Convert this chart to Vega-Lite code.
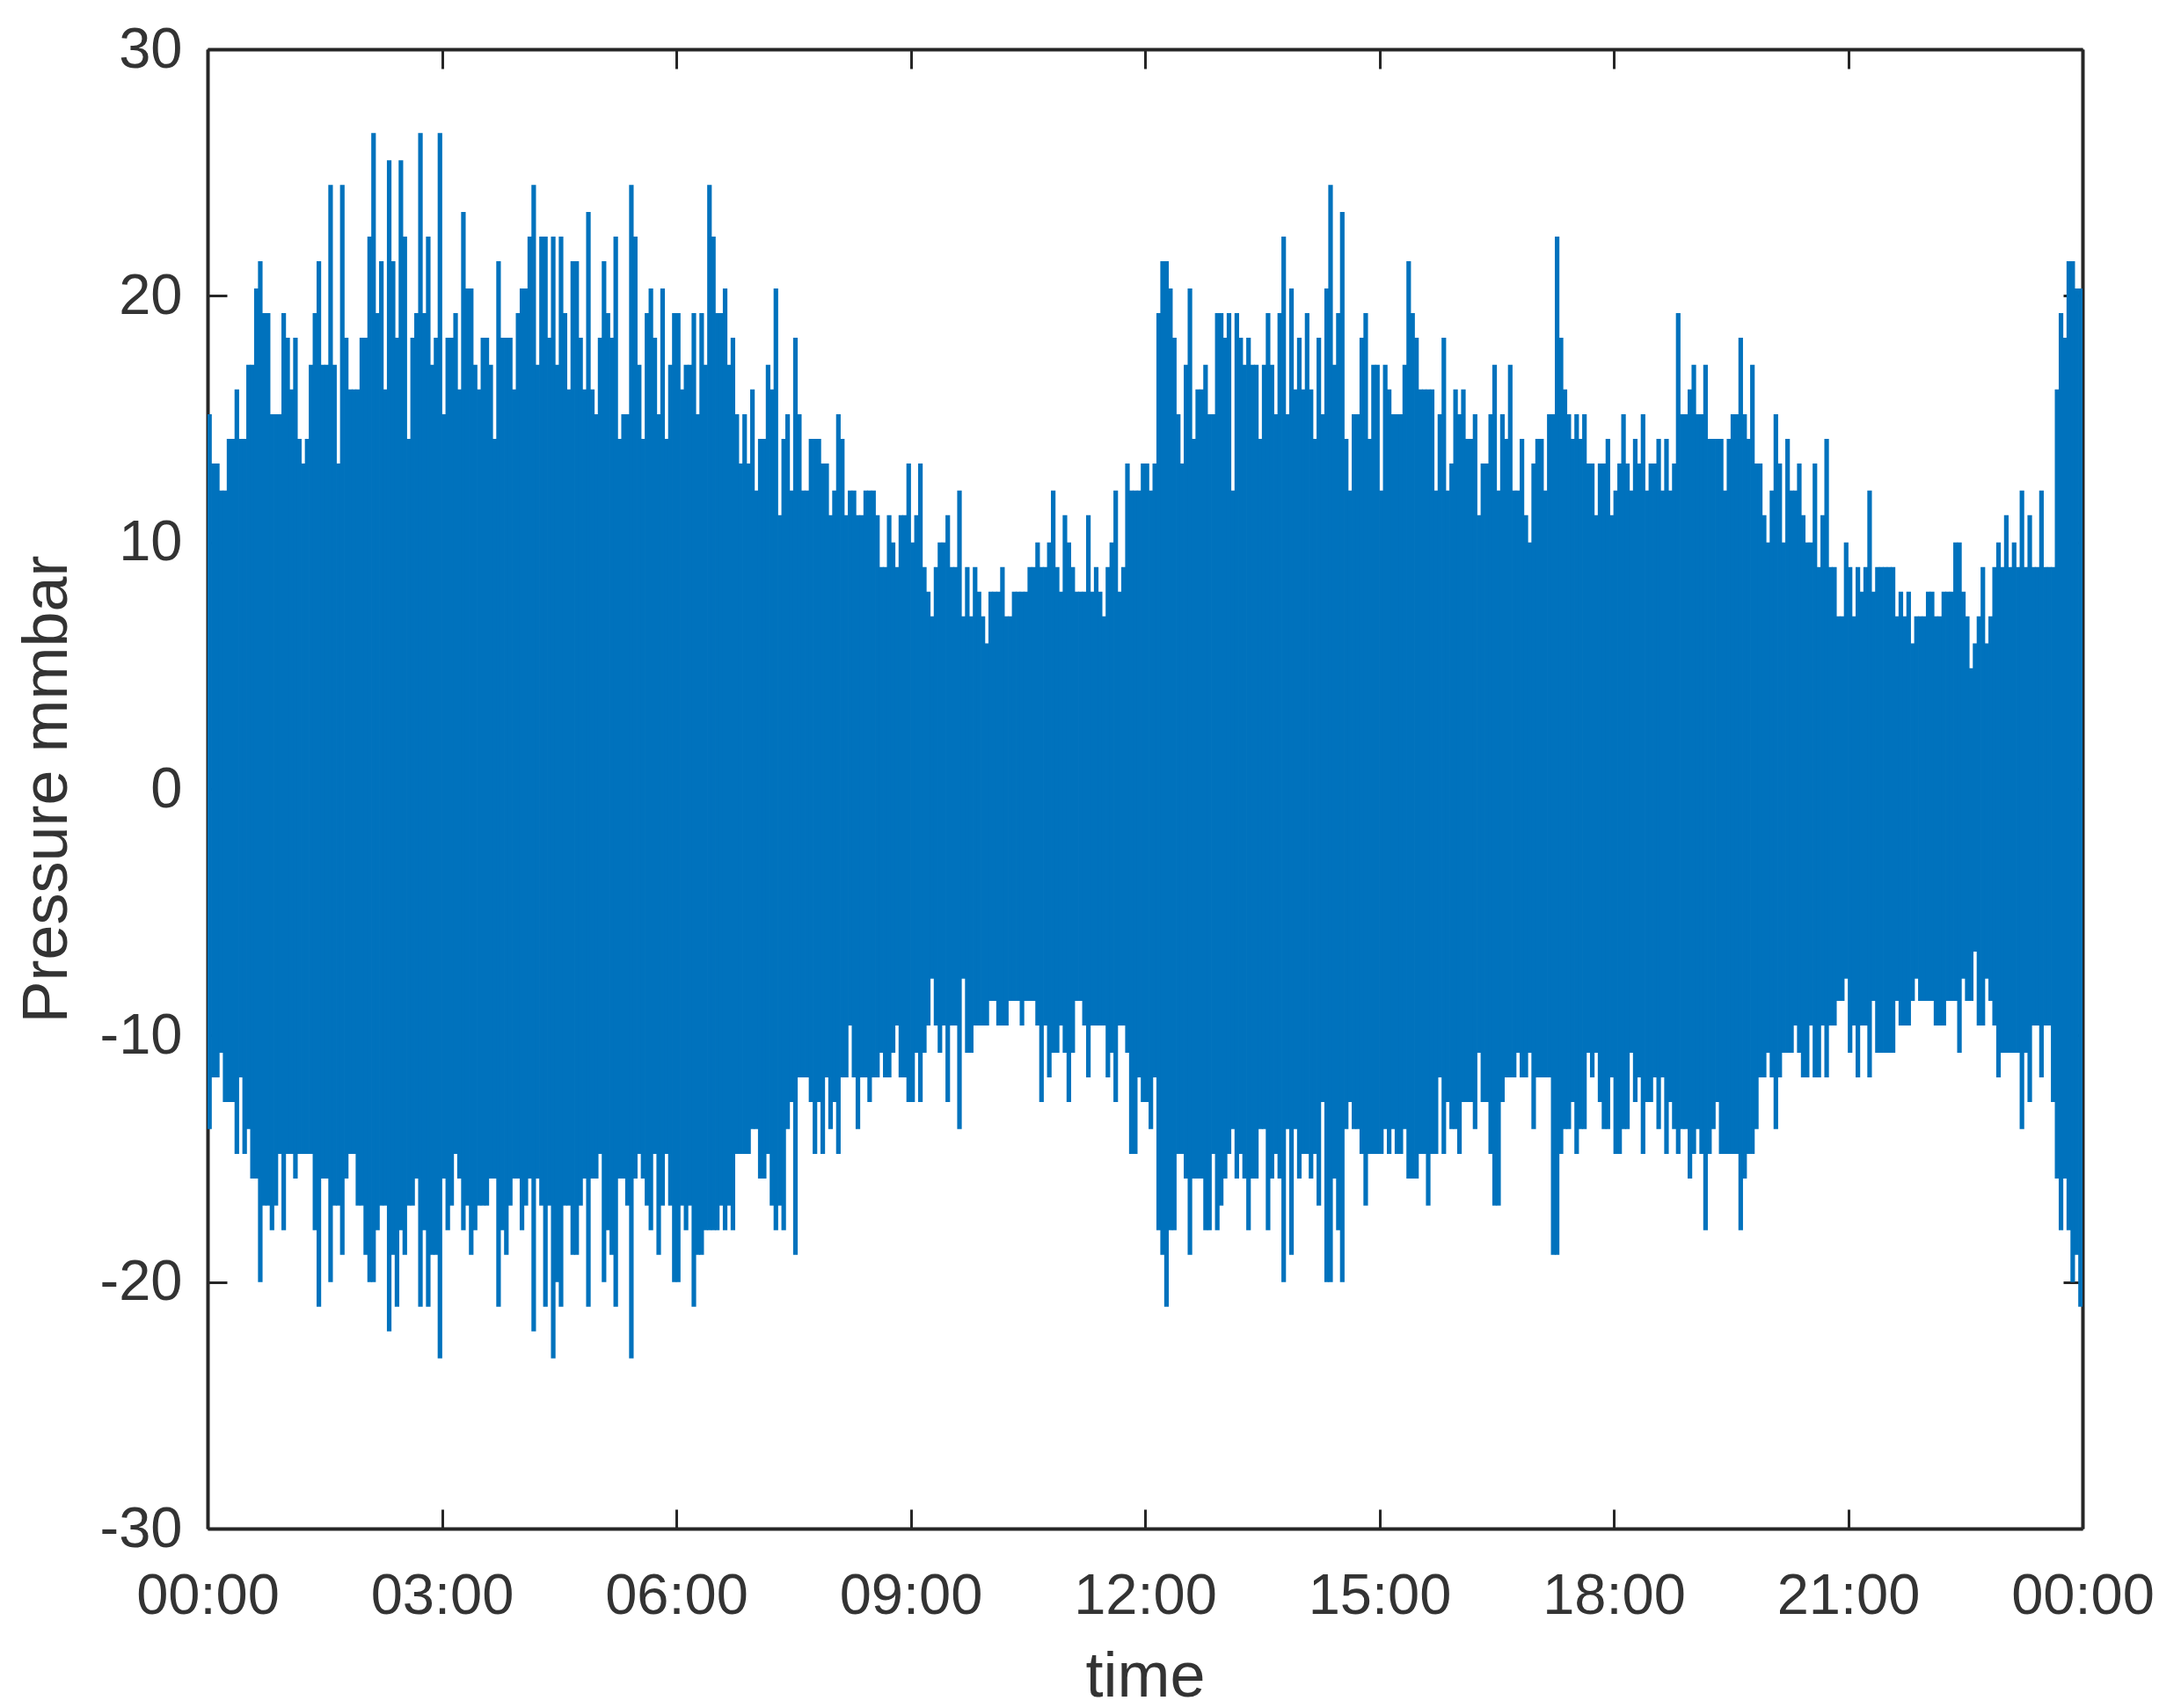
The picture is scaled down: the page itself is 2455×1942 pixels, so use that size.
{
"$schema":"https://vega.github.io/schema/vega-lite/v6.json",
"width":2132,"height":1682,
"autosize":"none",
"padding":{"left":236,"top":56,"right":87,"bottom":204},
"background":"white",
"config":{"view":{"stroke":null},"font":"Liberation Sans"},
"datasets":{"p":[
{"t":1.5,"h":15.2,"l":-13.8},{"t":4.5,"h":13.2,"l":-11.7},{"t":7.5,"h":13.2,"l":-11.7},{"t":10.5,"h":12.1,"l":-10.7},{"t":13.5,"h":12.1,"l":-12.7},{"t":16.5,"h":14.2,"l":-12.7},{"t":19.5,"h":14.2,"l":-12.7},{"t":22.5,"h":16.2,"l":-14.8},{"t":25.5,"h":14.2,"l":-11.7},{"t":28.5,"h":14.2,"l":-14.8},
{"t":31.5,"h":17.2,"l":-13.8},{"t":34.5,"h":17.2,"l":-15.8},{"t":37.5,"h":20.3,"l":-15.8},{"t":40.5,"h":21.4,"l":-20.0},{"t":43.5,"h":19.3,"l":-16.9},{"t":46.5,"h":19.3,"l":-16.9},{"t":49.5,"h":15.2,"l":-17.9},{"t":52.5,"h":15.2,"l":-16.9},{"t":55.5,"h":15.2,"l":-14.8},{"t":58.5,"h":19.3,"l":-17.9},
{"t":61.5,"h":18.3,"l":-14.8},{"t":64.5,"h":16.2,"l":-14.8},{"t":67.5,"h":18.3,"l":-15.8},{"t":70.5,"h":14.2,"l":-14.8},{"t":73.5,"h":13.2,"l":-14.8},{"t":76.5,"h":14.2,"l":-14.8},{"t":79.5,"h":17.2,"l":-14.8},{"t":82.5,"h":19.3,"l":-17.9},{"t":85.5,"h":21.4,"l":-21.0},{"t":88.5,"h":17.2,"l":-15.8},
{"t":91.5,"h":17.2,"l":-15.8},{"t":94.5,"h":24.5,"l":-20.0},{"t":97.5,"h":17.2,"l":-16.9},{"t":100.5,"h":13.2,"l":-16.9},{"t":103.5,"h":24.5,"l":-18.9},{"t":106.5,"h":18.3,"l":-15.8},{"t":109.5,"h":16.2,"l":-14.8},{"t":112.5,"h":16.2,"l":-14.8},{"t":115.5,"h":16.2,"l":-16.9},{"t":118.5,"h":18.3,"l":-16.9},
{"t":121.5,"h":18.3,"l":-18.9},{"t":124.5,"h":22.4,"l":-20.0},{"t":127.5,"h":26.6,"l":-20.0},{"t":130.5,"h":19.3,"l":-17.9},{"t":133.5,"h":21.4,"l":-16.9},{"t":136.5,"h":16.2,"l":-16.9},{"t":139.5,"h":25.5,"l":-22.0},{"t":142.5,"h":21.4,"l":-18.9},{"t":145.5,"h":18.3,"l":-21.0},{"t":148.5,"h":25.5,"l":-17.9},
{"t":151.5,"h":22.4,"l":-18.9},{"t":154.5,"h":14.2,"l":-16.9},{"t":157.5,"h":18.3,"l":-16.9},{"t":160.5,"h":19.3,"l":-15.8},{"t":163.5,"h":26.6,"l":-21.0},{"t":166.5,"h":19.3,"l":-17.9},{"t":169.5,"h":22.4,"l":-21.0},{"t":172.5,"h":17.2,"l":-18.9},{"t":175.5,"h":18.3,"l":-18.9},{"t":178.5,"h":26.6,"l":-23.1},
{"t":181.5,"h":15.2,"l":-15.8},{"t":184.5,"h":18.3,"l":-17.9},{"t":187.5,"h":18.3,"l":-16.9},{"t":190.5,"h":19.3,"l":-14.8},{"t":193.5,"h":16.2,"l":-15.8},{"t":196.5,"h":23.4,"l":-17.9},{"t":199.5,"h":20.3,"l":-16.9},{"t":202.5,"h":20.3,"l":-18.9},{"t":205.5,"h":17.2,"l":-17.9},{"t":208.5,"h":16.2,"l":-16.9},
{"t":211.5,"h":18.3,"l":-16.9},{"t":214.5,"h":18.3,"l":-16.9},{"t":217.5,"h":17.2,"l":-15.8},{"t":220.5,"h":14.2,"l":-15.8},{"t":223.5,"h":21.4,"l":-21.0},{"t":226.5,"h":18.3,"l":-17.9},{"t":229.5,"h":18.3,"l":-18.9},{"t":232.5,"h":18.3,"l":-16.9},{"t":235.5,"h":16.2,"l":-15.8},{"t":238.5,"h":19.3,"l":-15.8},
{"t":241.5,"h":20.3,"l":-17.9},{"t":244.5,"h":20.3,"l":-16.9},{"t":247.5,"h":22.4,"l":-15.8},{"t":250.5,"h":24.5,"l":-22.0},{"t":253.5,"h":17.2,"l":-15.8},{"t":256.5,"h":22.4,"l":-16.9},{"t":259.5,"h":22.4,"l":-21.0},{"t":262.5,"h":18.3,"l":-16.9},{"t":265.5,"h":22.4,"l":-23.1},{"t":268.5,"h":17.2,"l":-20.0},
{"t":271.5,"h":22.4,"l":-21.0},{"t":274.5,"h":19.3,"l":-16.9},{"t":277.5,"h":16.2,"l":-16.9},{"t":280.5,"h":21.4,"l":-18.9},{"t":283.5,"h":21.4,"l":-18.9},{"t":286.5,"h":18.3,"l":-16.9},{"t":289.5,"h":16.2,"l":-15.8},{"t":292.5,"h":23.4,"l":-21.0},{"t":295.5,"h":16.2,"l":-15.8},{"t":298.5,"h":15.2,"l":-15.8},
{"t":301.5,"h":18.3,"l":-14.8},{"t":304.5,"h":21.4,"l":-20.0},{"t":307.5,"h":19.3,"l":-17.9},{"t":310.5,"h":18.3,"l":-18.9},{"t":313.5,"h":22.4,"l":-21.0},{"t":316.5,"h":14.2,"l":-15.8},{"t":319.5,"h":15.2,"l":-15.8},{"t":322.5,"h":15.2,"l":-16.9},{"t":325.5,"h":24.5,"l":-23.1},{"t":328.5,"h":22.4,"l":-15.8},
{"t":331.5,"h":17.2,"l":-14.8},{"t":334.5,"h":14.2,"l":-15.8},{"t":337.5,"h":19.3,"l":-16.9},{"t":340.5,"h":20.3,"l":-17.9},{"t":343.5,"h":18.3,"l":-14.8},{"t":346.5,"h":15.2,"l":-18.9},{"t":349.5,"h":20.3,"l":-16.9},{"t":352.5,"h":14.2,"l":-14.8},{"t":355.5,"h":17.2,"l":-16.9},{"t":358.5,"h":19.3,"l":-20.0},
{"t":361.5,"h":19.3,"l":-20.0},{"t":364.5,"h":16.2,"l":-16.9},{"t":367.5,"h":17.2,"l":-17.9},{"t":370.5,"h":17.2,"l":-16.9},{"t":373.5,"h":19.3,"l":-21.0},{"t":376.5,"h":15.2,"l":-18.9},{"t":379.5,"h":19.3,"l":-18.9},{"t":382.5,"h":17.2,"l":-17.9},{"t":385.5,"h":24.5,"l":-17.9},{"t":388.5,"h":22.4,"l":-17.9},
{"t":391.5,"h":19.3,"l":-17.9},{"t":394.5,"h":19.3,"l":-16.9},{"t":397.5,"h":20.3,"l":-17.9},{"t":400.5,"h":17.2,"l":-16.9},{"t":403.5,"h":18.3,"l":-17.9},{"t":406.5,"h":15.2,"l":-14.8},{"t":409.5,"h":13.2,"l":-14.8},{"t":412.5,"h":15.2,"l":-14.8},{"t":415.5,"h":13.2,"l":-14.8},{"t":418.5,"h":16.2,"l":-13.8},
{"t":421.5,"h":12.1,"l":-13.8},{"t":424.5,"h":14.2,"l":-15.8},{"t":427.5,"h":14.2,"l":-15.8},{"t":430.5,"h":17.2,"l":-14.8},{"t":433.5,"h":16.2,"l":-16.9},{"t":436.5,"h":20.3,"l":-17.9},{"t":439.5,"h":11.1,"l":-16.9},{"t":442.5,"h":14.2,"l":-17.9},{"t":445.5,"h":15.2,"l":-13.8},{"t":448.5,"h":12.1,"l":-12.7},
{"t":451.5,"h":18.3,"l":-18.9},{"t":454.5,"h":15.2,"l":-11.7},{"t":457.5,"h":12.1,"l":-11.7},{"t":460.5,"h":12.1,"l":-11.7},{"t":463.5,"h":14.2,"l":-12.7},{"t":466.5,"h":14.2,"l":-14.8},{"t":469.5,"h":14.2,"l":-12.7},{"t":472.5,"h":13.2,"l":-14.8},{"t":475.5,"h":13.2,"l":-11.7},{"t":478.5,"h":11.1,"l":-13.8},
{"t":481.5,"h":12.1,"l":-12.7},{"t":484.5,"h":15.2,"l":-14.8},{"t":487.5,"h":14.2,"l":-11.7},{"t":490.5,"h":11.1,"l":-11.7},{"t":493.5,"h":12.1,"l":-9.6},{"t":496.5,"h":12.1,"l":-11.7},{"t":499.5,"h":11.1,"l":-13.8},{"t":502.5,"h":11.1,"l":-11.7},{"t":505.5,"h":12.1,"l":-11.7},{"t":508.5,"h":12.1,"l":-12.7},
{"t":511.5,"h":12.1,"l":-11.7},{"t":514.5,"h":11.1,"l":-11.7},{"t":517.5,"h":9.0,"l":-10.7},{"t":520.5,"h":9.0,"l":-11.7},{"t":523.5,"h":11.1,"l":-11.7},{"t":526.5,"h":10.0,"l":-10.7},{"t":529.5,"h":9.0,"l":-9.6},{"t":532.5,"h":11.1,"l":-11.7},{"t":535.5,"h":11.1,"l":-11.7},{"t":538.5,"h":13.2,"l":-12.7},
{"t":541.5,"h":10.0,"l":-12.7},{"t":544.5,"h":11.1,"l":-10.7},{"t":547.5,"h":13.2,"l":-12.7},{"t":550.5,"h":9.0,"l":-10.7},{"t":553.5,"h":8.0,"l":-9.6},{"t":556.5,"h":7.0,"l":-7.7},{"t":559.5,"h":9.0,"l":-9.6},{"t":562.5,"h":10.0,"l":-10.7},{"t":565.5,"h":10.0,"l":-9.6},{"t":568.5,"h":11.1,"l":-12.7},
{"t":571.5,"h":9.0,"l":-9.6},{"t":574.5,"h":9.0,"l":-9.6},{"t":577.5,"h":12.1,"l":-13.8},{"t":580.5,"h":7.0,"l":-7.7},{"t":583.5,"h":9.0,"l":-10.7},{"t":586.5,"h":7.0,"l":-10.7},{"t":589.5,"h":9.0,"l":-9.6},{"t":592.5,"h":8.0,"l":-9.6},{"t":595.5,"h":7.0,"l":-9.6},{"t":598.5,"h":5.9,"l":-9.6},
{"t":601.5,"h":8.0,"l":-8.6},{"t":604.5,"h":8.0,"l":-8.6},{"t":607.5,"h":8.0,"l":-9.6},{"t":610.5,"h":9.0,"l":-9.6},{"t":613.5,"h":7.0,"l":-9.6},{"t":616.5,"h":7.0,"l":-8.6},{"t":619.5,"h":8.0,"l":-8.6},{"t":622.5,"h":8.0,"l":-8.6},{"t":625.5,"h":8.0,"l":-9.6},{"t":628.5,"h":8.0,"l":-8.6},
{"t":631.5,"h":9.0,"l":-8.6},{"t":634.5,"h":9.0,"l":-8.6},{"t":637.5,"h":10.0,"l":-9.6},{"t":640.5,"h":9.0,"l":-12.7},{"t":643.5,"h":9.0,"l":-9.6},{"t":646.5,"h":10.0,"l":-11.7},{"t":649.5,"h":12.1,"l":-10.7},{"t":652.5,"h":9.0,"l":-10.7},{"t":655.5,"h":8.0,"l":-9.6},{"t":658.5,"h":11.1,"l":-10.7},
{"t":661.5,"h":10.0,"l":-12.7},{"t":664.5,"h":9.0,"l":-10.7},{"t":667.5,"h":8.0,"l":-8.6},{"t":670.5,"h":8.0,"l":-8.6},{"t":673.5,"h":8.0,"l":-9.6},{"t":676.5,"h":11.1,"l":-11.7},{"t":679.5,"h":8.0,"l":-9.6},{"t":682.5,"h":9.0,"l":-9.6},{"t":685.5,"h":8.0,"l":-9.6},{"t":688.5,"h":7.0,"l":-9.6},
{"t":691.5,"h":9.0,"l":-11.7},{"t":694.5,"h":10.0,"l":-10.7},{"t":697.5,"h":12.1,"l":-12.7},{"t":700.5,"h":8.0,"l":-9.6},{"t":703.5,"h":9.0,"l":-9.6},{"t":706.5,"h":13.2,"l":-10.7},{"t":709.5,"h":12.1,"l":-14.8},{"t":712.5,"h":12.1,"l":-14.8},{"t":715.5,"h":12.1,"l":-11.7},{"t":718.5,"h":13.2,"l":-12.7},
{"t":721.5,"h":13.2,"l":-12.7},{"t":724.5,"h":12.1,"l":-13.8},{"t":727.5,"h":13.2,"l":-11.7},{"t":730.5,"h":19.3,"l":-17.9},{"t":733.5,"h":21.4,"l":-18.9},{"t":736.5,"h":21.4,"l":-21.0},{"t":739.5,"h":20.3,"l":-17.9},{"t":742.5,"h":18.3,"l":-17.9},{"t":745.5,"h":15.2,"l":-14.8},{"t":748.5,"h":13.2,"l":-14.8},
{"t":751.5,"h":17.2,"l":-15.8},{"t":754.5,"h":20.3,"l":-18.9},{"t":757.5,"h":14.2,"l":-15.8},{"t":760.5,"h":16.2,"l":-15.8},{"t":763.5,"h":16.2,"l":-15.8},{"t":766.5,"h":17.2,"l":-17.9},{"t":769.5,"h":15.2,"l":-17.9},{"t":772.5,"h":15.2,"l":-14.8},{"t":775.5,"h":19.3,"l":-17.9},{"t":778.5,"h":19.3,"l":-16.9},
{"t":781.5,"h":18.3,"l":-15.8},{"t":784.5,"h":19.3,"l":-14.8},{"t":787.5,"h":12.1,"l":-13.8},{"t":790.5,"h":19.3,"l":-15.8},{"t":793.5,"h":18.3,"l":-14.8},{"t":796.5,"h":17.2,"l":-15.8},{"t":799.5,"h":18.3,"l":-17.9},{"t":802.5,"h":17.2,"l":-15.8},{"t":805.5,"h":17.2,"l":-15.8},{"t":808.5,"h":14.2,"l":-13.8},
{"t":811.5,"h":17.2,"l":-13.8},{"t":814.5,"h":19.3,"l":-17.9},{"t":817.5,"h":17.2,"l":-15.8},{"t":820.5,"h":15.2,"l":-14.8},{"t":823.5,"h":19.3,"l":-15.8},{"t":826.5,"h":22.4,"l":-20.0},{"t":829.5,"h":15.2,"l":-13.8},{"t":832.5,"h":20.3,"l":-18.9},{"t":835.5,"h":16.2,"l":-13.8},{"t":838.5,"h":18.3,"l":-15.8},
{"t":841.5,"h":16.2,"l":-14.8},{"t":844.5,"h":19.3,"l":-14.8},{"t":847.5,"h":16.2,"l":-15.8},{"t":850.5,"h":14.2,"l":-14.8},{"t":853.5,"h":18.3,"l":-16.9},{"t":856.5,"h":15.2,"l":-12.7},{"t":859.5,"h":20.3,"l":-20.0},{"t":862.5,"h":24.5,"l":-20.0},{"t":865.5,"h":17.2,"l":-15.8},{"t":868.5,"h":19.3,"l":-17.9},
{"t":871.5,"h":23.4,"l":-20.0},{"t":874.5,"h":14.2,"l":-13.8},{"t":877.5,"h":12.1,"l":-12.7},{"t":880.5,"h":15.2,"l":-13.8},{"t":883.5,"h":15.2,"l":-13.8},{"t":886.5,"h":18.3,"l":-14.8},{"t":889.5,"h":19.3,"l":-16.9},{"t":892.5,"h":14.2,"l":-14.8},{"t":895.5,"h":17.2,"l":-14.8},{"t":898.5,"h":17.2,"l":-14.8},
{"t":901.5,"h":12.1,"l":-14.8},{"t":904.5,"h":17.2,"l":-13.8},{"t":907.5,"h":16.2,"l":-14.8},{"t":910.5,"h":15.2,"l":-13.8},{"t":913.5,"h":15.2,"l":-14.8},{"t":916.5,"h":15.2,"l":-14.8},{"t":919.5,"h":17.2,"l":-13.8},{"t":922.5,"h":21.4,"l":-15.8},{"t":925.5,"h":19.3,"l":-15.8},{"t":928.5,"h":18.3,"l":-15.8},
{"t":931.5,"h":16.2,"l":-14.8},{"t":934.5,"h":16.2,"l":-14.8},{"t":937.5,"h":16.2,"l":-16.9},{"t":940.5,"h":16.2,"l":-14.8},{"t":943.5,"h":12.1,"l":-14.8},{"t":946.5,"h":15.2,"l":-11.7},{"t":949.5,"h":18.3,"l":-14.8},{"t":952.5,"h":12.1,"l":-12.7},{"t":955.5,"h":13.2,"l":-13.8},{"t":958.5,"h":16.2,"l":-13.8},
{"t":961.5,"h":15.2,"l":-14.8},{"t":964.5,"h":16.2,"l":-12.7},{"t":967.5,"h":14.2,"l":-12.7},{"t":970.5,"h":14.2,"l":-12.7},{"t":973.5,"h":15.2,"l":-13.8},{"t":976.5,"h":11.1,"l":-10.7},{"t":979.5,"h":13.2,"l":-12.7},{"t":982.5,"h":13.2,"l":-12.7},{"t":985.5,"h":15.2,"l":-14.8},{"t":988.5,"h":17.2,"l":-16.9},
{"t":991.5,"h":12.1,"l":-16.9},{"t":994.5,"h":15.2,"l":-12.7},{"t":997.5,"h":14.2,"l":-11.7},{"t":1000.5,"h":17.2,"l":-11.7},{"t":1003.5,"h":12.1,"l":-11.7},{"t":1006.5,"h":12.1,"l":-10.7},{"t":1009.5,"h":14.2,"l":-11.7},{"t":1012.5,"h":11.1,"l":-11.7},{"t":1015.5,"h":10.0,"l":-10.7},{"t":1018.5,"h":13.2,"l":-13.8},
{"t":1021.5,"h":14.2,"l":-11.7},{"t":1024.5,"h":14.2,"l":-11.7},{"t":1027.5,"h":12.1,"l":-11.7},{"t":1030.5,"h":15.2,"l":-11.7},{"t":1033.5,"h":15.2,"l":-18.9},{"t":1036.5,"h":22.4,"l":-18.9},{"t":1039.5,"h":18.3,"l":-14.8},{"t":1042.5,"h":16.2,"l":-13.8},{"t":1045.5,"h":15.2,"l":-13.8},{"t":1048.5,"h":14.2,"l":-12.7},
{"t":1051.5,"h":15.2,"l":-14.8},{"t":1054.5,"h":14.2,"l":-13.8},{"t":1057.5,"h":15.2,"l":-13.8},{"t":1060.5,"h":13.2,"l":-10.7},{"t":1063.5,"h":13.2,"l":-11.7},{"t":1066.5,"h":11.1,"l":-10.7},{"t":1069.5,"h":13.2,"l":-12.7},{"t":1072.5,"h":13.2,"l":-13.8},{"t":1075.5,"h":14.2,"l":-13.8},{"t":1078.5,"h":11.1,"l":-11.7},
{"t":1081.5,"h":12.1,"l":-14.8},{"t":1084.5,"h":13.2,"l":-14.8},{"t":1087.5,"h":15.2,"l":-13.8},{"t":1090.5,"h":13.2,"l":-13.8},{"t":1093.5,"h":12.1,"l":-10.7},{"t":1096.5,"h":14.2,"l":-12.7},{"t":1099.5,"h":13.2,"l":-11.7},{"t":1102.5,"h":15.2,"l":-14.8},{"t":1105.5,"h":12.1,"l":-12.7},{"t":1108.5,"h":13.2,"l":-12.7},
{"t":1111.5,"h":13.2,"l":-11.7},{"t":1114.5,"h":14.2,"l":-13.8},{"t":1117.5,"h":12.1,"l":-11.7},{"t":1120.5,"h":14.2,"l":-14.8},{"t":1123.5,"h":12.1,"l":-12.7},{"t":1126.5,"h":13.2,"l":-13.8},{"t":1129.5,"h":19.3,"l":-14.8},{"t":1132.5,"h":15.2,"l":-13.8},{"t":1135.5,"h":15.2,"l":-13.8},{"t":1138.5,"h":16.2,"l":-15.8},
{"t":1141.5,"h":17.2,"l":-14.8},{"t":1144.5,"h":15.2,"l":-13.8},{"t":1147.5,"h":15.2,"l":-14.8},{"t":1150.5,"h":17.2,"l":-17.9},{"t":1153.5,"h":14.2,"l":-14.8},{"t":1156.5,"h":14.2,"l":-13.8},{"t":1159.5,"h":14.2,"l":-12.7},{"t":1162.5,"h":14.2,"l":-14.8},{"t":1165.5,"h":12.1,"l":-14.8},{"t":1168.5,"h":14.2,"l":-14.8},
{"t":1171.5,"h":15.2,"l":-14.8},{"t":1174.5,"h":15.2,"l":-14.8},{"t":1177.5,"h":18.3,"l":-17.9},{"t":1180.5,"h":15.2,"l":-15.8},{"t":1183.5,"h":14.2,"l":-14.8},{"t":1186.5,"h":17.2,"l":-14.8},{"t":1189.5,"h":13.2,"l":-13.8},{"t":1192.5,"h":13.2,"l":-11.7},{"t":1195.5,"h":11.1,"l":-11.7},{"t":1198.5,"h":10.0,"l":-10.7},
{"t":1201.5,"h":12.1,"l":-11.7},{"t":1204.5,"h":15.2,"l":-13.8},{"t":1207.5,"h":13.2,"l":-11.7},{"t":1210.5,"h":10.0,"l":-10.7},{"t":1213.5,"h":14.2,"l":-10.7},{"t":1216.5,"h":12.1,"l":-10.7},{"t":1219.5,"h":12.1,"l":-9.6},{"t":1222.5,"h":13.2,"l":-10.7},{"t":1225.5,"h":11.1,"l":-11.7},{"t":1228.5,"h":10.0,"l":-11.7},
{"t":1231.5,"h":10.0,"l":-9.6},{"t":1234.5,"h":13.2,"l":-11.7},{"t":1237.5,"h":9.0,"l":-11.7},{"t":1240.5,"h":11.1,"l":-9.6},{"t":1243.5,"h":14.2,"l":-11.7},{"t":1246.5,"h":9.0,"l":-9.6},{"t":1249.5,"h":9.0,"l":-9.6},{"t":1252.5,"h":7.0,"l":-8.6},{"t":1255.5,"h":7.0,"l":-8.6},{"t":1258.5,"h":10.0,"l":-7.7},
{"t":1261.5,"h":9.0,"l":-10.7},{"t":1264.5,"h":7.0,"l":-9.6},{"t":1267.5,"h":9.0,"l":-11.7},{"t":1270.5,"h":8.0,"l":-9.6},{"t":1273.5,"h":9.0,"l":-9.6},{"t":1276.5,"h":12.1,"l":-11.7},{"t":1279.5,"h":8.0,"l":-8.6},{"t":1282.5,"h":9.0,"l":-10.7},{"t":1285.5,"h":9.0,"l":-10.7},{"t":1288.5,"h":9.0,"l":-10.7},
{"t":1291.5,"h":9.0,"l":-10.7},{"t":1294.5,"h":9.0,"l":-10.7},{"t":1297.5,"h":7.0,"l":-8.6},{"t":1300.5,"h":8.0,"l":-9.6},{"t":1303.5,"h":7.0,"l":-9.6},{"t":1306.5,"h":8.0,"l":-9.6},{"t":1309.5,"h":5.9,"l":-8.6},{"t":1312.5,"h":7.0,"l":-7.7},{"t":1315.5,"h":7.0,"l":-8.6},{"t":1318.5,"h":7.0,"l":-8.6},
{"t":1321.5,"h":8.0,"l":-8.6},{"t":1324.5,"h":8.0,"l":-8.6},{"t":1327.5,"h":7.0,"l":-9.6},{"t":1330.5,"h":7.0,"l":-9.6},{"t":1333.5,"h":8.0,"l":-9.6},{"t":1336.5,"h":8.0,"l":-8.6},{"t":1339.5,"h":8.0,"l":-8.6},{"t":1342.5,"h":10.0,"l":-8.6},{"t":1345.5,"h":10.0,"l":-10.7},{"t":1348.5,"h":8.0,"l":-7.7},
{"t":1351.5,"h":7.0,"l":-8.6},{"t":1354.5,"h":4.9,"l":-8.6},{"t":1357.5,"h":5.9,"l":-6.6},{"t":1360.5,"h":7.0,"l":-9.6},{"t":1363.5,"h":9.0,"l":-9.6},{"t":1366.5,"h":5.9,"l":-7.7},{"t":1369.5,"h":7.0,"l":-8.6},{"t":1372.5,"h":9.0,"l":-9.6},{"t":1375.5,"h":10.0,"l":-11.7},{"t":1378.5,"h":9.0,"l":-10.7},
{"t":1381.5,"h":11.1,"l":-10.7},{"t":1384.5,"h":9.0,"l":-10.7},{"t":1387.5,"h":10.0,"l":-10.7},{"t":1390.5,"h":9.0,"l":-10.7},{"t":1393.5,"h":12.1,"l":-13.8},{"t":1396.5,"h":9.0,"l":-10.7},{"t":1399.5,"h":11.1,"l":-12.7},{"t":1402.5,"h":9.0,"l":-9.6},{"t":1405.5,"h":9.0,"l":-9.6},{"t":1408.5,"h":12.1,"l":-11.7},
{"t":1411.5,"h":9.0,"l":-9.6},{"t":1414.5,"h":9.0,"l":-9.6},{"t":1417.5,"h":9.0,"l":-12.7},{"t":1420.5,"h":16.2,"l":-15.8},{"t":1423.5,"h":19.3,"l":-17.9},{"t":1426.5,"h":18.3,"l":-15.8},{"t":1429.5,"h":21.4,"l":-17.9},{"t":1432.5,"h":21.4,"l":-20.0},{"t":1435.5,"h":20.3,"l":-18.9},{"t":1438.5,"h":20.3,"l":-21.0}
]},
"layer":[
{"data":{"name":"p"},
 "mark":{"type":"rule","color":"#0072BD","strokeWidth":5.2,"strokeCap":"butt","clip":true},
 "encoding":{
  "x":{"field":"t","type":"quantitative","scale":{"domain":[0,1440],"nice":false,"zero":false},
   "axis":{"orient":"bottom","values":[0,180,360,540,720,900,1080,1260,1440],
    "labelExpr":"(floor(datum.value/60)%24<10?'0':'')+(floor(datum.value/60)%24)+':00'",
    "grid":false,"tickSize":-22,"tickWidth":3,"tickColor":"#262626","domainColor":"#262626","domainWidth":4,
    "labelFont":"Liberation Sans","labelFontSize":65,"labelColor":"#333333","labelPadding":67,"labelBaseline":"top","labelFlush":false,"labelOverlap":false,
    "title":"time","titleFont":"Liberation Sans","titleFontSize":72,"titleFontWeight":"normal","titleColor":"#333333","titleBaseline":"alphabetic","titleX":1066,"titleY":190,"titleAnchor":"middle","titleAlign":"center"}},
  "y":{"field":"l","type":"quantitative","scale":{"domain":[-30,30],"nice":false,"zero":false},
   "axis":{"orient":"left","values":[-30,-20,-10,0,10,20,30],"labelExpr":"''+datum.value",
    "grid":false,"tickSize":-22,"tickWidth":3,"tickColor":"#262626","domainColor":"#262626","domainWidth":4,
    "labelFont":"Liberation Sans","labelFontSize":65,"labelColor":"#333333","labelPadding":51,"labelBaseline":"middle","labelAlign":"right","labelFlush":false,"labelOverlap":false,
    "title":"Pressure mmbar","titleFont":"Liberation Sans","titleFontSize":72,"titleFontWeight":"normal","titleColor":"#333333","titleAngle":270,"titleBaseline":"alphabetic","titleAlign":"center","titleX":-161,"titleY":841}},
  "y2":{"field":"h"}
 }},
{"data":{"name":"p"},
 "mark":{"type":"rule","opacity":0},
 "encoding":{
  "x":{"field":"t","type":"quantitative","scale":{"domain":[0,1440],"nice":false,"zero":false},
   "axis":{"orient":"top","values":[0,180,360,540,720,900,1080,1260,1440],"labels":false,"grid":false,"tickSize":-22,"tickWidth":3,"tickColor":"#262626","domainColor":"#262626","domainWidth":4,"title":null}},
  "y":{"field":"l","type":"quantitative","scale":{"domain":[-30,30],"nice":false,"zero":false},
   "axis":{"orient":"right","values":[-30,-20,-10,0,10,20,30],"labels":false,"grid":false,"tickSize":-22,"tickWidth":3,"tickColor":"#262626","domainColor":"#262626","domainWidth":4,"title":null}}
 }}
],
"resolve":{"axis":{"x":"independent","y":"independent"}}
}
